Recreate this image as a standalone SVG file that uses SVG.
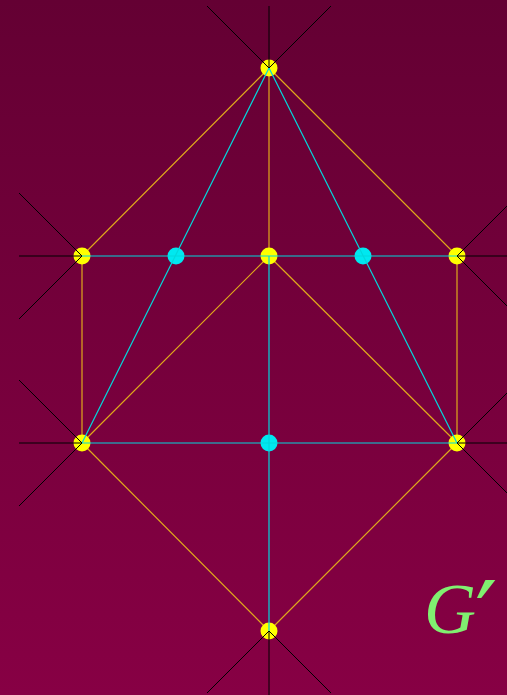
<svg xmlns="http://www.w3.org/2000/svg" width="507" height="695" viewBox="0 0 507 695">
<defs>
<linearGradient id="bg" x1="0" y1="0" x2="0" y2="1">
<stop offset="0" stop-color="#640033"/>
<stop offset="1" stop-color="#870044"/>
</linearGradient>
<style>
.o{stroke:#e0a81c;stroke-width:1.2;fill:none}
.c{stroke:#00d8dc;stroke-width:1.2;fill:none}
.k{stroke:#000;stroke-width:1;fill:none}
.y{fill:#ffff00}
.cy{fill:#00e8f0}
</style>
</defs>
<rect width="507" height="695" fill="url(#bg)"/>
<g id="orange-edges">
<path class="o" d="M269 68L82 256M269 68L457 256M269 68L269 256M82 256L82 443M457 256L457 443M269 256L82 443M269 256L457 443M82 443L269 631M457 443L269 631"/>
</g>
<g id="n-top"><circle class="y" cx="269" cy="68" r="8.5"/></g>
<g id="n-lt"><circle class="y" cx="82" cy="256" r="8.5"/></g>
<g id="n-mt"><circle class="y" cx="269" cy="256" r="8.5"/></g>
<g id="n-rt"><circle class="y" cx="457" cy="256" r="8.5"/></g>
<g id="n-lb"><circle class="y" cx="82" cy="443" r="8.5"/></g>
<g id="n-rb"><circle class="y" cx="457" cy="443" r="8.5"/></g>
<g id="n-bot"><circle class="y" cx="269" cy="631" r="8.5"/></g>
<g id="c-l"><circle class="cy" cx="176" cy="256" r="8.5"/></g>
<g id="c-r"><circle class="cy" cx="363" cy="256" r="8.5"/></g>
<g id="c-b"><circle class="cy" cx="269" cy="443" r="8.5"/></g>
<g id="cyan-edges">
<path class="c" d="M269 68L82 443M269 68L457 443M82 256L457 256M82 443L457 443M269 256L269 631"/>
</g>
<g id="black-edges">
<path class="k" d="M269 68L207 6M269 68L269 6M269 68L331 6M82 256L19 193M82 256L19 256M82 256L19 319M457 256L520 193M457 256L520 256M457 256L520 319M82 443L19 380M82 443L19 443M82 443L19 506M457 443L520 380M457 443L520 443M457 443L520 506M269 631L207 693M269 631L269 695M269 631L331 693"/>
</g>
<g id="label">
<text x="424" y="633" font-family="Liberation Serif, serif" font-style="italic" font-size="72" fill="#80f070">G<tspan font-family="DejaVu Sans, sans-serif" font-style="normal" font-size="100" dx="-1" dy="20">′</tspan></text>
</g>
</svg>
